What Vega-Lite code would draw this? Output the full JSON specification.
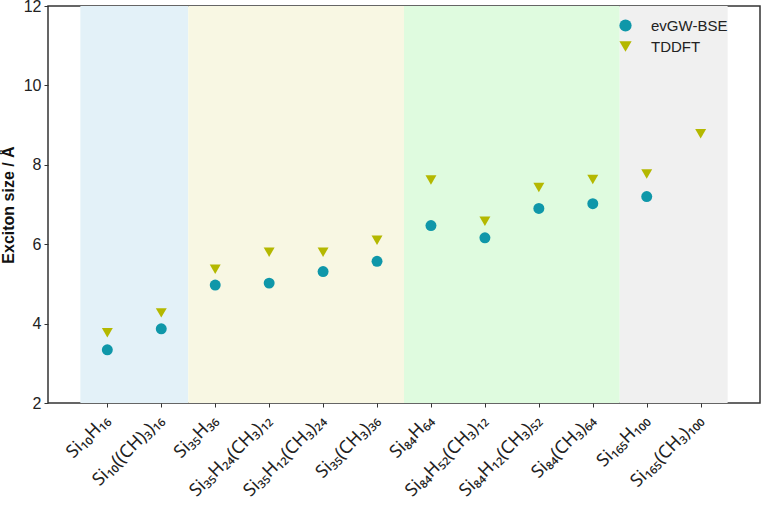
{
  "$schema": "https://vega.github.io/schema/vega-lite/v6.json",
  "autosize": {"type": "none"},
  "width": 712,
  "height": 397,
  "padding": {"left": 48, "top": 6, "right": 2, "bottom": 102},
  "background": "white",
  "config": {
    "view": {"stroke": "#333333", "strokeWidth": 1.5},
    "axis": {"grid": false, "domain": false, "tickColor": "#333333", "tickSize": 4, "tickWidth": 1}
  },
  "datasets": {
    "regions": [
      {"group": "Si10", "start": -0.5, "end": 1.5},
      {"group": "Si35", "start": 1.5, "end": 5.5},
      {"group": "Si84", "start": 5.5, "end": 9.5},
      {"group": "Si165", "start": 9.5, "end": 11.5}
    ],
    "sizes": [
      {"idx": 0, "series": "evGW-BSE", "value": 3.34},
      {"idx": 1, "series": "evGW-BSE", "value": 3.87},
      {"idx": 2, "series": "evGW-BSE", "value": 4.97},
      {"idx": 3, "series": "evGW-BSE", "value": 5.02},
      {"idx": 4, "series": "evGW-BSE", "value": 5.31},
      {"idx": 5, "series": "evGW-BSE", "value": 5.57},
      {"idx": 6, "series": "evGW-BSE", "value": 6.47},
      {"idx": 7, "series": "evGW-BSE", "value": 6.16},
      {"idx": 8, "series": "evGW-BSE", "value": 6.90},
      {"idx": 9, "series": "evGW-BSE", "value": 7.02},
      {"idx": 10, "series": "evGW-BSE", "value": 7.20},
      {"idx": 0, "series": "TDDFT", "value": 3.77},
      {"idx": 1, "series": "TDDFT", "value": 4.27},
      {"idx": 2, "series": "TDDFT", "value": 5.37},
      {"idx": 3, "series": "TDDFT", "value": 5.80},
      {"idx": 4, "series": "TDDFT", "value": 5.80},
      {"idx": 5, "series": "TDDFT", "value": 6.10},
      {"idx": 6, "series": "TDDFT", "value": 7.62},
      {"idx": 7, "series": "TDDFT", "value": 6.58},
      {"idx": 8, "series": "TDDFT", "value": 7.43},
      {"idx": 9, "series": "TDDFT", "value": 7.63},
      {"idx": 10, "series": "TDDFT", "value": 7.77},
      {"idx": 11, "series": "TDDFT", "value": 8.78}
    ]
  },
  "layer": [
    {
      "data": {"name": "regions"},
      "mark": {"type": "rect"},
      "encoding": {
        "x": {
          "field": "start", "type": "quantitative",
          "scale": {"domain": [-1.1, 12.1], "nice": false, "zero": false},
          "axis": {
            "title": null,
            "values": [0, 1, 2, 3, 4, 5, 6, 7, 8, 9, 10, 11],
            "labelAngle": -45,
            "labelOverlap": false,
            "labelFont": "Noto Sans",
            "labelFontSize": 18,
            "labelColor": "#222222",
            "labelPadding": 4,
            "labelOffset": -7,
            "labelExpr": "['Si₁₀H₁₆', 'Si₁₀((CH)₃)₁₆', 'Si₃₅H₃₆', 'Si₃₅H₂₄(CH₃)₁₂', 'Si₃₅H₁₂(CH₃)₂₄', 'Si₃₅(CH₃)₃₆', 'Si₈₄H₆₄', 'Si₈₄H₅₂(CH₃)₁₂', 'Si₈₄H₁₂(CH₃)₅₂', 'Si₈₄(CH₃)₆₄', 'Si₁₆₅H₁₀₀', 'Si₁₆₅(CH₃)₁₀₀'][datum.value]"
          }
        },
        "x2": {"field": "end"},
        "fill": {
          "field": "group", "type": "nominal",
          "scale": {"domain": ["Si10", "Si35", "Si84", "Si165"], "range": ["#e3f1f8", "#f8f7e3", "#dffbdf", "#f0f0f0"]},
          "legend": null
        }
      }
    },
    {
      "data": {"name": "sizes"},
      "mark": {"type": "point", "filled": true, "opacity": 1, "size": 120},
      "encoding": {
        "x": {"field": "idx", "type": "quantitative"},
        "y": {
          "field": "value", "type": "quantitative",
          "scale": {"domain": [2, 12], "nice": false, "zero": false},
          "axis": {
            "title": "Exciton size / Å",
            "titleFont": "Liberation Sans",
            "titleFontSize": 16,
            "titleFontWeight": "bold",
            "titleColor": "#111111",
            "titlePadding": 7,
            "values": [2, 4, 6, 8, 10, 12],
            "labelFont": "Liberation Sans",
            "labelFontSize": 16,
            "labelColor": "#222222",
            "labelPadding": 3
          }
        },
        "color": {
          "field": "series", "type": "nominal",
          "scale": {"domain": ["evGW-BSE", "TDDFT"], "range": ["#0f97a9", "#b4b800"]},
          "legend": {
            "title": null,
            "orient": "none",
            "legendX": 570,
            "legendY": 12,
            "labelFont": "Liberation Sans",
            "labelFontSize": 15,
            "labelColor": "#222222",
            "labelOffset": 18,
            "labelLimit": 120,
            "symbolSize": 150,
            "rowPadding": 5,
            "symbolStrokeWidth": 0
          }
        },
        "shape": {
          "field": "series", "type": "nominal",
          "scale": {"domain": ["evGW-BSE", "TDDFT"], "range": ["circle", "triangle-down"]}
        }
      }
    }
  ],
  "resolve": {"scale": {"fill": "independent"}}
}
